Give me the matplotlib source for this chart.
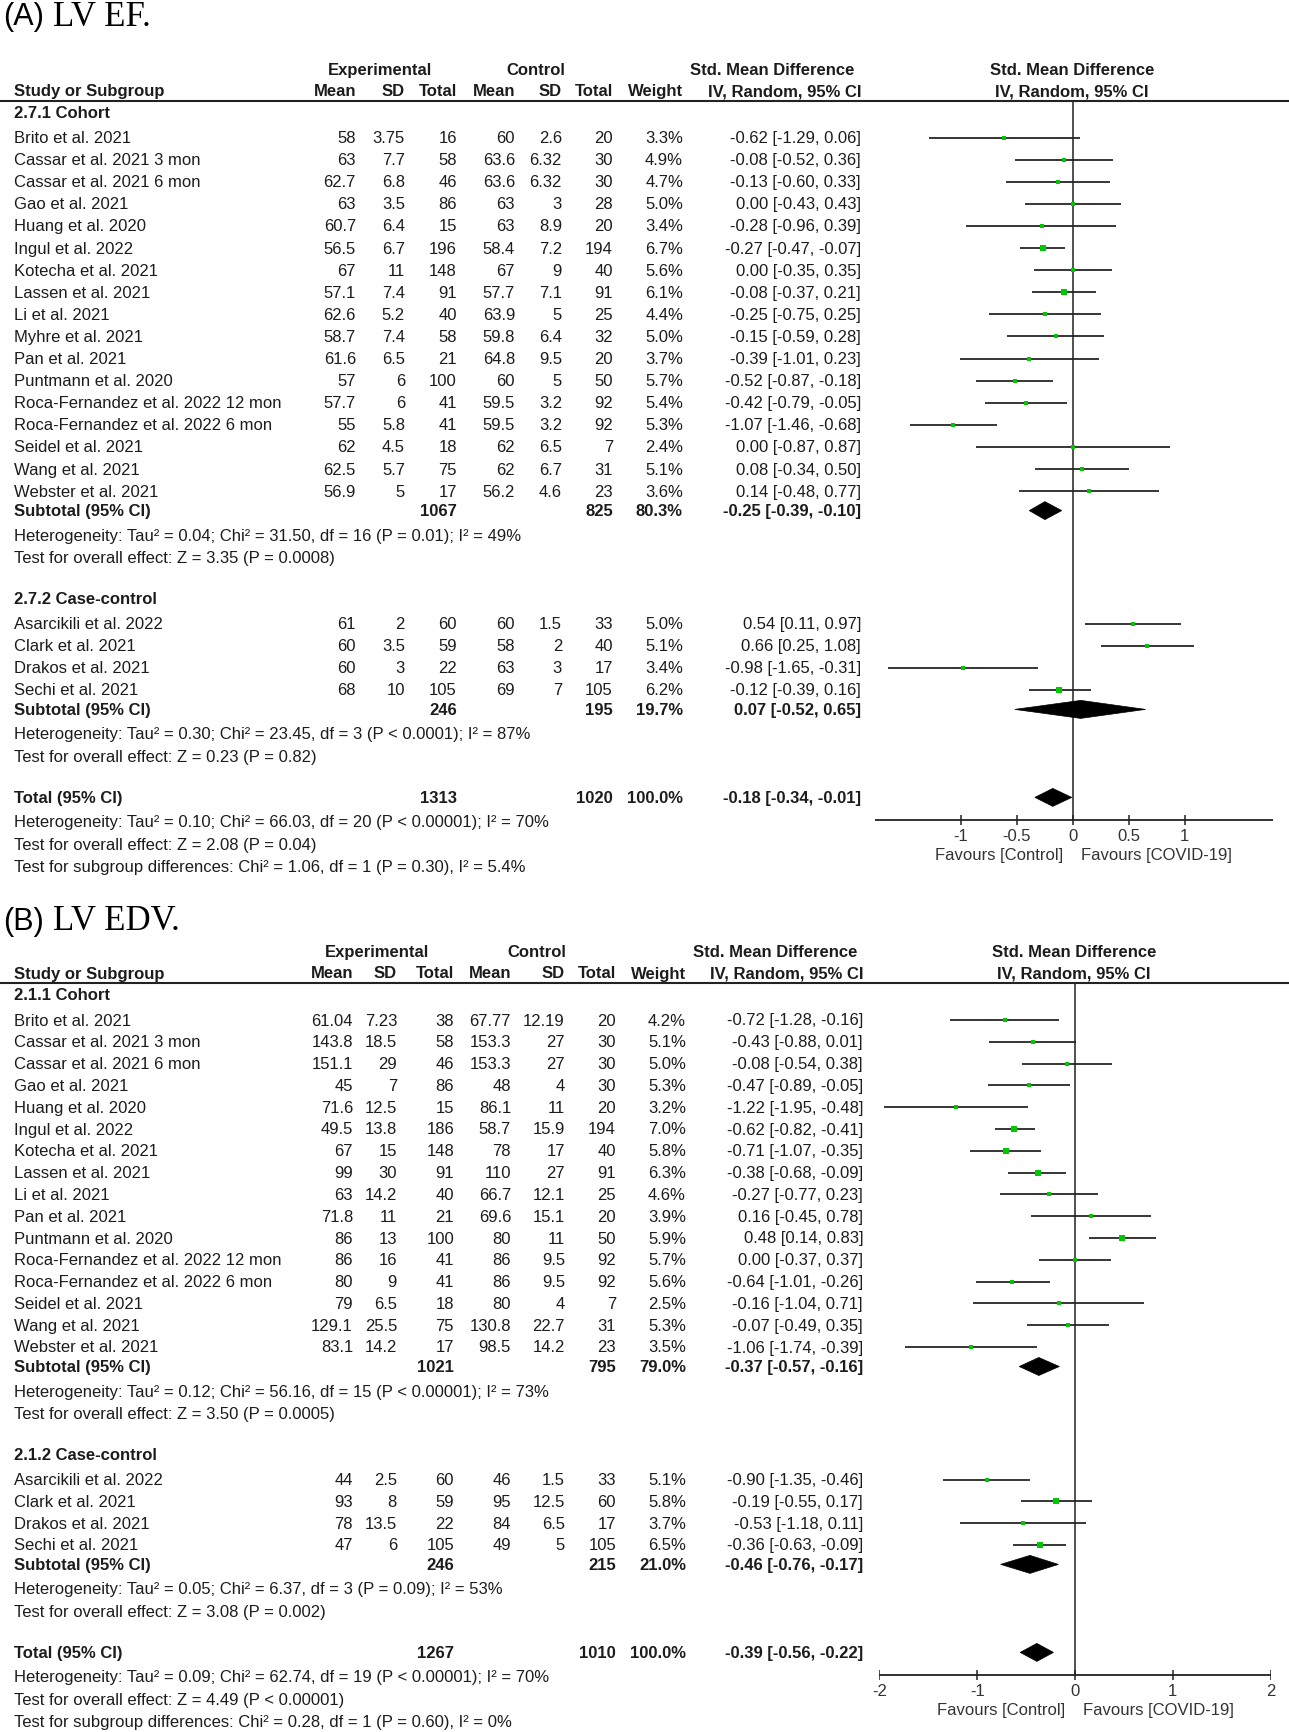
import numpy as np
import matplotlib
matplotlib.use("Agg")
import matplotlib.pyplot as plt
import matplotlib.transforms as mtransforms

plt.rcParams['font.family'] = ['Liberation Sans', 'DejaVu Sans']

# ---------------- panel A : LV EF ----------------
a_study = ["Brito et al. 2021", "Cassar et al. 2021 3 mon", "Cassar et al. 2021 6 mon", "Gao et al. 2021",
           "Huang et al. 2020", "Ingul et al. 2022", "Kotecha et al. 2021", "Lassen et al. 2021",
           "Li et al. 2021", "Myhre et al. 2021", "Pan et al. 2021", "Puntmann et al. 2020",
           "Roca-Fernandez et al. 2022 12 mon", "Roca-Fernandez et al. 2022 6 mon", "Seidel et al. 2021",
           "Wang et al. 2021", "Webster et al. 2021",
           "Asarcikili et al. 2022", "Clark et al. 2021", "Drakos et al. 2021", "Sechi et al. 2021"]
a_group = [0] * 17 + [1] * 4
a_e_mean = [58, 63, 62.7, 63, 60.7, 56.5, 67, 57.1, 62.6, 58.7, 61.6, 57, 57.7, 55, 62, 62.5, 56.9, 61, 60, 60, 68]
a_e_sd = [3.75, 7.7, 6.8, 3.5, 6.4, 6.7, 11, 7.4, 5.2, 7.4, 6.5, 6, 6, 5.8, 4.5, 5.7, 5, 2, 3.5, 3, 10]
a_e_n = [16, 58, 46, 86, 15, 196, 148, 91, 40, 58, 21, 100, 41, 41, 18, 75, 17, 60, 59, 22, 105]
a_c_mean = [60, 63.6, 63.6, 63, 63, 58.4, 67, 57.7, 63.9, 59.8, 64.8, 60, 59.5, 59.5, 62, 62, 56.2, 60, 58, 63, 69]
a_c_sd = [2.6, 6.32, 6.32, 3, 8.9, 7.2, 9, 7.1, 5, 6.4, 9.5, 5, 3.2, 3.2, 6.5, 6.7, 4.6, 1.5, 2, 3, 7]
a_c_n = [20, 30, 30, 28, 20, 194, 40, 91, 25, 32, 20, 50, 92, 92, 7, 31, 23, 33, 40, 17, 105]
a_weight = [3.3, 4.9, 4.7, 5.0, 3.4, 6.7, 5.6, 6.1, 4.4, 5.0, 3.7, 5.7, 5.4, 5.3, 2.4, 5.1, 3.6, 5.0, 5.1, 3.4, 6.2]
a_smd = [-0.62, -0.08, -0.13, 0.00, -0.28, -0.27, 0.00, -0.08, -0.25, -0.15, -0.39, -0.52, -0.42, -1.07, 0.00,
         0.08, 0.14, 0.54, 0.66, -0.98, -0.12]
a_lo = [-1.29, -0.52, -0.60, -0.43, -0.96, -0.47, -0.35, -0.37, -0.75, -0.59, -1.01, -0.87, -0.79, -1.46, -0.87,
        -0.34, -0.48, 0.11, 0.25, -1.65, -0.39]
a_hi = [0.06, 0.36, 0.33, 0.43, 0.39, -0.07, 0.35, 0.21, 0.25, 0.28, 0.23, -0.18, -0.05, -0.68, 0.87,
        0.50, 0.77, 0.97, 1.08, -0.31, 0.16]
a_sub_label = ["2.7.1 Cohort", "2.7.2 Case-control"]
a_sub_e_n = [1067, 246]
a_sub_c_n = [825, 195]
a_sub_weight = [80.3, 19.7]
a_sub_smd = [-0.25, 0.07]
a_sub_lo = [-0.39, -0.52]
a_sub_hi = [-0.10, 0.65]
a_sub_het = ["Heterogeneity: Tau\u00b2 = 0.04; Chi\u00b2 = 31.50, df = 16 (P = 0.01); I\u00b2 = 49%",
             "Heterogeneity: Tau\u00b2 = 0.30; Chi\u00b2 = 23.45, df = 3 (P < 0.0001); I\u00b2 = 87%"]
a_sub_z = ["Test for overall effect: Z = 3.35 (P = 0.0008)",
           "Test for overall effect: Z = 0.23 (P = 0.82)"]
a_tot = [1313, 1020, 100.0, -0.18, -0.34, -0.01]
a_tot_text = ["Heterogeneity: Tau\u00b2 = 0.10; Chi\u00b2 = 66.03, df = 20 (P < 0.00001); I\u00b2 = 70%",
              "Test for overall effect: Z = 2.08 (P = 0.04)",
              "Test for subgroup differences: Chi\u00b2 = 1.06, df = 1 (P = 0.30), I\u00b2 = 5.4%"]
a_ticks = [-1, -0.5, 0, 0.5, 1]

# ---------------- panel B : LV EDV ----------------
b_study = ["Brito et al. 2021", "Cassar et al. 2021 3 mon", "Cassar et al. 2021 6 mon", "Gao et al. 2021",
           "Huang et al. 2020", "Ingul et al. 2022", "Kotecha et al. 2021", "Lassen et al. 2021",
           "Li et al. 2021", "Pan et al. 2021", "Puntmann et al. 2020",
           "Roca-Fernandez et al. 2022 12 mon", "Roca-Fernandez et al. 2022 6 mon", "Seidel et al. 2021",
           "Wang et al. 2021", "Webster et al. 2021",
           "Asarcikili et al. 2022", "Clark et al. 2021", "Drakos et al. 2021", "Sechi et al. 2021"]
b_group = [0] * 16 + [1] * 4
b_e_mean = [61.04, 143.8, 151.1, 45, 71.6, 49.5, 67, 99, 63, 71.8, 86, 86, 80, 79, 129.1, 83.1, 44, 93, 78, 47]
b_e_sd = [7.23, 18.5, 29, 7, 12.5, 13.8, 15, 30, 14.2, 11, 13, 16, 9, 6.5, 25.5, 14.2, 2.5, 8, 13.5, 6]
b_e_n = [38, 58, 46, 86, 15, 186, 148, 91, 40, 21, 100, 41, 41, 18, 75, 17, 60, 59, 22, 105]
b_c_mean = [67.77, 153.3, 153.3, 48, 86.1, 58.7, 78, 110, 66.7, 69.6, 80, 86, 86, 80, 130.8, 98.5, 46, 95, 84, 49]
b_c_sd = [12.19, 27, 27, 4, 11, 15.9, 17, 27, 12.1, 15.1, 11, 9.5, 9.5, 4, 22.7, 14.2, 1.5, 12.5, 6.5, 5]
b_c_n = [20, 30, 30, 30, 20, 194, 40, 91, 25, 20, 50, 92, 92, 7, 31, 23, 33, 60, 17, 105]
b_weight = [4.2, 5.1, 5.0, 5.3, 3.2, 7.0, 5.8, 6.3, 4.6, 3.9, 5.9, 5.7, 5.6, 2.5, 5.3, 3.5, 5.1, 5.8, 3.7, 6.5]
b_smd = [-0.72, -0.43, -0.08, -0.47, -1.22, -0.62, -0.71, -0.38, -0.27, 0.16, 0.48, 0.00, -0.64, -0.16,
         -0.07, -1.06, -0.90, -0.19, -0.53, -0.36]
b_lo = [-1.28, -0.88, -0.54, -0.89, -1.95, -0.82, -1.07, -0.68, -0.77, -0.45, 0.14, -0.37, -1.01, -1.04,
        -0.49, -1.74, -1.35, -0.55, -1.18, -0.63]
b_hi = [-0.16, 0.01, 0.38, -0.05, -0.48, -0.41, -0.35, -0.09, 0.23, 0.78, 0.83, 0.37, -0.26, 0.71,
        0.35, -0.39, -0.46, 0.17, 0.11, -0.09]
b_sub_label = ["2.1.1 Cohort", "2.1.2 Case-control"]
b_sub_e_n = [1021, 246]
b_sub_c_n = [795, 215]
b_sub_weight = [79.0, 21.0]
b_sub_smd = [-0.37, -0.46]
b_sub_lo = [-0.57, -0.76]
b_sub_hi = [-0.16, -0.17]
b_sub_het = ["Heterogeneity: Tau\u00b2 = 0.12; Chi\u00b2 = 56.16, df = 15 (P < 0.00001); I\u00b2 = 73%",
             "Heterogeneity: Tau\u00b2 = 0.05; Chi\u00b2 = 6.37, df = 3 (P = 0.09); I\u00b2 = 53%"]
b_sub_z = ["Test for overall effect: Z = 3.50 (P = 0.0005)",
           "Test for overall effect: Z = 3.08 (P = 0.002)"]
b_tot = [1267, 1010, 100.0, -0.39, -0.56, -0.22]
b_tot_text = ["Heterogeneity: Tau\u00b2 = 0.09; Chi\u00b2 = 62.74, df = 19 (P < 0.00001); I\u00b2 = 70%",
              "Test for overall effect: Z = 4.49 (P < 0.00001)",
              "Test for subgroup differences: Chi\u00b2 = 0.28, df = 1 (P = 0.60), I\u00b2 = 0%"]
b_ticks = [-2, -1, 0, 1, 2]

W, H = 1289, 1733
TXT = '#1c1c1c'
GREEN = '#00c800'
FS = 12

fig = plt.figure(figsize=(W / 100, H / 100), dpi=100)
tax = fig.add_axes([0, 0, 1, 1])
tax.set_xlim(0, W)
tax.set_ylim(H, 0)
tax.axis('off')


def put(x, y, s, ha='right', bold=False, size=FS, color=TXT):
    tax.text(x, y, s, ha=ha, va='center', fontsize=size, color=color,
             fontweight='bold' if bold else 'normal')


def layout(y_hdr, groups, step):
    # vertical layout (figure pixels from top) of one panel
    lay = {'exp': y_hdr - 21.5, 'hdr': y_hdr, 'line': y_hdr + 10, 'groups': []}
    y = y_hdr + 22
    for n in np.bincount(groups):
        g = {'label': y, 'rows': [y + 25 + i * step for i in range(n)]}
        g['sub'] = g['rows'][-1] + 19.5
        g['het'] = g['sub'] + 24.5
        g['z'] = g['sub'] + 47
        y = g['z'] + 41
        lay['groups'].append(g)
    lay['total'] = y
    lay['axis'] = y + 23
    return lay


def draw_panel(d, y_title, tag, title, y_hdr, step, cols, fx, xlim, ticks):
    lay = layout(y_hdr, d['group'], step)
    tax.text(3, y_title, tag, ha='left', va='center', fontsize=22, family='Liberation Sans', color='k')
    tax.text(53, y_title, title, ha='left', va='center', fontsize=25, family='Liberation Serif', color='k')

    # header
    put(cols['exp_c'], lay['exp'], "Experimental", ha='center', bold=True)
    put(cols['ctl_c'], lay['exp'], "Control", ha='center', bold=True)
    put(cols['smd_c'], lay['exp'], "Std. Mean Difference", ha='center', bold=True)
    put(cols['fp_c'], lay['exp'], "Std. Mean Difference", ha='center', bold=True)
    put(cols['name'], lay['hdr'], "Study or Subgroup", ha='left', bold=True)
    for key, lab in [('em', 'Mean'), ('esd', 'SD'), ('en', 'Total'), ('cm', 'Mean'), ('csd', 'SD'),
                     ('cn', 'Total'), ('w', 'Weight'), ('ci', 'IV, Random, 95% CI')]:
        put(cols[key], lay['hdr'], lab, bold=True)
    put(cols['fp_c'], lay['hdr'], "IV, Random, 95% CI", ha='center', bold=True)
    tax.plot([0, W], [lay['line'], lay['line']], color='#222222', lw=1.5)

    fax = fig.add_axes([fx[0] / W, 0, (fx[1] - fx[0]) / W, 1])
    fax.set_xlim(xlim)
    fax.set_ylim(H, 0)
    fax.axis('off')
    fax.patch.set_alpha(0)

    def diamond(y, m, lo, hi):
        fax.fill([lo, m, hi, m], [y, y - 9, y, y + 9], color='k', lw=0.5, zorder=3)

    for gi, g in enumerate(lay['groups']):
        put(cols['name'], g['label'], d['sub_label'][gi], ha='left', bold=True)
        idx = [i for i, gg in enumerate(d['group']) if gg == gi]
        for y, i in zip(g['rows'], idx):
            put(cols['name'], y, d['study'][i], ha='left')
            put(cols['em'], y, '%g' % d['e_mean'][i])
            put(cols['esd'], y, '%g' % d['e_sd'][i])
            put(cols['en'], y, '%d' % d['e_n'][i])
            put(cols['cm'], y, '%g' % d['c_mean'][i])
            put(cols['csd'], y, '%g' % d['c_sd'][i])
            put(cols['cn'], y, '%d' % d['c_n'][i])
            put(cols['w'], y, '%.1f%%' % d['weight'][i])
            put(cols['ci'], y, '%.2f [%.2f, %.2f]' % (d['smd'][i], d['lo'][i], d['hi'][i]))
            fax.hlines(y, d['lo'][i], d['hi'][i], color='k', lw=1.1, zorder=2)
            fax.plot(d['smd'][i], y, marker='s', ms=1.5 * np.sqrt(d['weight'][i]),
                     color=GREEN, mec=GREEN, mew=0, zorder=4)
        put(cols['name'], g['sub'], "Subtotal (95% CI)", ha='left', bold=True)
        put(cols['en'], g['sub'], '%d' % d['sub_e_n'][gi], bold=True)
        put(cols['cn'], g['sub'], '%d' % d['sub_c_n'][gi], bold=True)
        put(cols['w'], g['sub'], '%.1f%%' % d['sub_weight'][gi], bold=True)
        put(cols['ci'], g['sub'], '%.2f [%.2f, %.2f]' % (d['sub_smd'][gi], d['sub_lo'][gi], d['sub_hi'][gi]),
            bold=True)
        diamond(g['sub'], d['sub_smd'][gi], d['sub_lo'][gi], d['sub_hi'][gi])
        put(cols['name'], g['het'], d['sub_het'][gi], ha='left')
        put(cols['name'], g['z'], d['sub_z'][gi], ha='left')

    t = d['tot']
    yt = lay['total']
    put(cols['name'], yt, "Total (95% CI)", ha='left', bold=True)
    put(cols['en'], yt, '%d' % t[0], bold=True)
    put(cols['cn'], yt, '%d' % t[1], bold=True)
    put(cols['w'], yt, '%.1f%%' % t[2], bold=True)
    put(cols['ci'], yt, '%.2f [%.2f, %.2f]' % (t[3], t[4], t[5]), bold=True)
    diamond(yt, t[3], t[4], t[5])
    for k, s in enumerate(d['tot_text']):
        put(cols['name'], yt + 24.5 + k * 22.5, s, ha='left')

    # forest axis
    ya = lay['axis']
    fax.vlines(0, lay['line'], ya, color='#222222', lw=1.1)
    fax.hlines(ya, xlim[0], xlim[1], color='#222222', lw=1.3)
    fax.vlines(ticks, ya - 5, ya + 5, color='#222222', lw=1.1)
    for tk in ticks:
        fax.text(tk, ya + 15, '%g' % tk, ha='center', va='center', fontsize=FS, color='#333333')
    left = mtransforms.offset_copy(fax.transData, fig=fig, x=-10, y=0, units='dots')
    right = mtransforms.offset_copy(fax.transData, fig=fig, x=8, y=0, units='dots')
    fax.text(0, ya + 34, "Favours [Control]", ha='right', va='center', fontsize=FS, color='#333333',
             transform=left)
    fax.text(0, ya + 34, "Favours [COVID-19]", ha='left', va='center', fontsize=FS, color='#333333',
             transform=right)


def pack(p):
    g = globals()
    keys = ['study', 'group', 'e_mean', 'e_sd', 'e_n', 'c_mean', 'c_sd', 'c_n', 'weight', 'smd', 'lo', 'hi',
            'sub_label', 'sub_e_n', 'sub_c_n', 'sub_weight', 'sub_smd', 'sub_lo', 'sub_hi', 'sub_het', 'sub_z',
            'tot', 'tot_text']
    return {k: g[p + '_' + k] for k in keys}


cols_a = dict(name=14, em=356, esd=405, en=457, cm=515, csd=562, cn=613, w=683, ci=861,
              exp_c=380, ctl_c=536, smd_c=772, fp_c=1072)
cols_b = dict(name=14, em=353, esd=397, en=454, cm=511, csd=565, cn=616, w=686, ci=863,
              exp_c=377, ctl_c=537, smd_c=775, fp_c=1074)

draw_panel(pack('a'), 17, "(A)", "LV EF.", 91.5, 22.1, cols_a, (875, 1273), (-1.77, 1.79), a_ticks)
draw_panel(pack('b'), 922, "(B)", "LV EDV.", 974, 21.8, cols_b, (879.3, 1270.7), (-2, 2), b_ticks)

fig.savefig('out.png', dpi=100)
